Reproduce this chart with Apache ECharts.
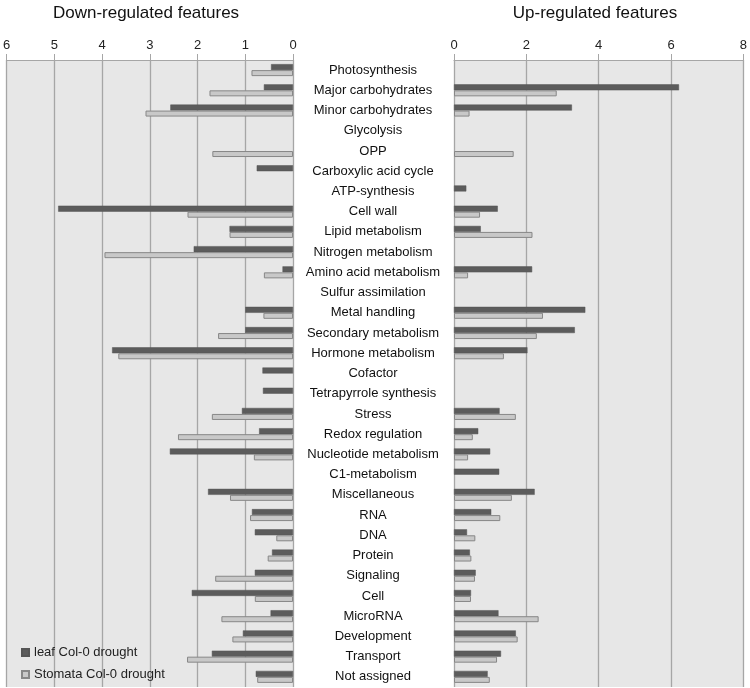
<!DOCTYPE html>
<html>
<head>
<meta charset="utf-8">
<script src="https://cdn.jsdelivr.net/npm/echarts@6/dist/echarts.min.js"></script>
<style>html,body{margin:0;padding:0;background:#fff;}#c{width:750px;height:688px;}</style>
</head>
<body>
<div id="c"></div>
<script>
const categories = ['Photosynthesis','Major carbohydrates','Minor carbohydrates','Glycolysis','OPP','Carboxylic acid cycle','ATP-synthesis','Cell wall','Lipid metabolism','Nitrogen metabolism','Amino acid metabolism','Sulfur assimilation','Metal handling','Secondary metabolism','Hormone metabolism','Cofactor','Tetrapyrrole synthesis','Stress','Redox regulation','Nucleotide metabolism','C1-metabolism','Miscellaneous','RNA','DNA','Protein','Signaling','Cell','MicroRNA','Development','Transport','Not assigned'];

const leafDown     = [0.46,0.61,2.57,0,0,0.76,0,4.92,1.33,2.08,0.22,0,1.00,1.00,3.79,0.64,0.63,1.07,0.71,2.58,0,1.78,0.86,0.80,0.44,0.80,2.12,0.47,1.05,1.70,0.78];
const stomataDown  = [0.87,1.75,3.09,0,1.69,0,0,2.21,1.33,3.95,0.61,0,0.62,1.57,3.66,0,0,1.70,2.41,0.82,0,1.32,0.90,0.35,0.53,1.63,0.80,1.50,1.27,2.22,0.75];
const leafUp       = [0,6.22,3.26,0,0,0,0.34,1.21,0.74,0,2.16,0,3.63,3.34,2.03,0,0,1.26,0.67,1.00,1.25,2.23,1.03,0.36,0.44,0.60,0.47,1.23,1.71,1.30,0.93];
const stomataUp    = [0,2.84,0.43,0,1.65,0,0,0.72,2.17,0,0.39,0,2.46,2.29,1.38,0,0,1.71,0.52,0.39,0,1.60,1.28,0.59,0.48,0.58,0.47,2.34,1.76,1.19,0.99];

const downTicks = [0,1,2,3,4,5,6];
const upTicks = [0,2,4,6,8];
const seriesNames = ['leaf Col-0 drought','Stomata Col-0 drought'];
const panelTitles = ['Down-regulated features','Up-regulated features'];

const FONT = 'Liberation Sans, Arial, sans-serif';
const DARK = '#5c5c5c';
const LIGHT = '#c8c8c8';
const LIGHT_BORDER = '#878787';
const GRIDLINE = '#a6a6a6';
const PANEL_BG = '#e7e7e7';

function clean(arr){ return arr.map(v => v === 0 ? '-' : v); }

const chart = echarts.init(document.getElementById('c'), null, {renderer:'canvas'});

function valueAxis(grid, max, interval, inverse){
  return {
    type:'value', gridIndex:grid, min:0, max:max, interval:interval, inverse:inverse,
    position:'top',
    axisLine:{show:true, lineStyle:{color:GRIDLINE, width:1}},
    axisTick:{show:true, length:6, lineStyle:{color:GRIDLINE}},
    axisLabel:{show:true, margin:8, color:'#222', fontSize:13, fontFamily:FONT},
    splitLine:{show:true, lineStyle:{color:GRIDLINE, width:1.3}}
  };
}

function catAxis(grid, showLabels){
  return {
    type:'category', gridIndex:grid, data:categories, inverse:true,
    position:'right',
    axisLine:{show:false}, axisTick:{show:false},
    axisLabel:{show:showLabels, align:'center', margin:80, color:'#111', fontSize:13, fontFamily:FONT, interval:0},
    splitLine:{show:false}
  };
}

function barSeries(name, data, axisIdx, dark){
  return {
    type:'bar', name:name, xAxisIndex:axisIdx, yAxisIndex:axisIdx,
    data:clean(data), barWidth:6, barGap:'0%',
    itemStyle: dark ? {color:DARK, borderColor:'#555', borderWidth:0.5}
                    : {color:LIGHT, borderColor:LIGHT_BORDER, borderWidth:1},
    emphasis:{disabled:true}
  };
}

chart.setOption({
  animation:false,
  backgroundColor:'#ffffff',
  title:[
    {text:panelTitles[0], left:146, top:5, padding:0, textAlign:'center', textStyle:{fontFamily:FONT, fontSize:17, fontWeight:'normal', color:'#111'}},
    {text:panelTitles[1], left:595, top:5, padding:0, textAlign:'center', textStyle:{fontFamily:FONT, fontSize:17, fontWeight:'normal', color:'#111'}}
  ],
  legend:{
    data:[{name:seriesNames[0]},{name:seriesNames[1]}],
    orient:'vertical', left:21, top:646, padding:0, itemWidth:7, itemHeight:7, itemGap:9,
    icon:'rect',
    textStyle:{fontFamily:FONT, fontSize:13, color:'#222'},
    selectedMode:false
  },
  grid:[
    {left:4, right:457, top:60, bottom:1, show:true, backgroundColor:PANEL_BG, borderWidth:0, containLabel:false},
    {left:454, right:4, top:60, bottom:1, show:true, backgroundColor:PANEL_BG, borderWidth:0, containLabel:false}
  ],
  xAxis:[ valueAxis(0, downTicks[downTicks.length-1], downTicks[1]-downTicks[0], true),
          valueAxis(1, upTicks[upTicks.length-1], upTicks[1]-upTicks[0], false) ],
  yAxis:[ catAxis(0, true), catAxis(1, false) ],
  series:[
    barSeries(seriesNames[0], leafDown, 0, true),
    barSeries(seriesNames[1], stomataDown, 0, false),
    barSeries(seriesNames[0], leafUp, 1, true),
    barSeries(seriesNames[1], stomataUp, 1, false)
  ]
});
</script>
</body>
</html>
